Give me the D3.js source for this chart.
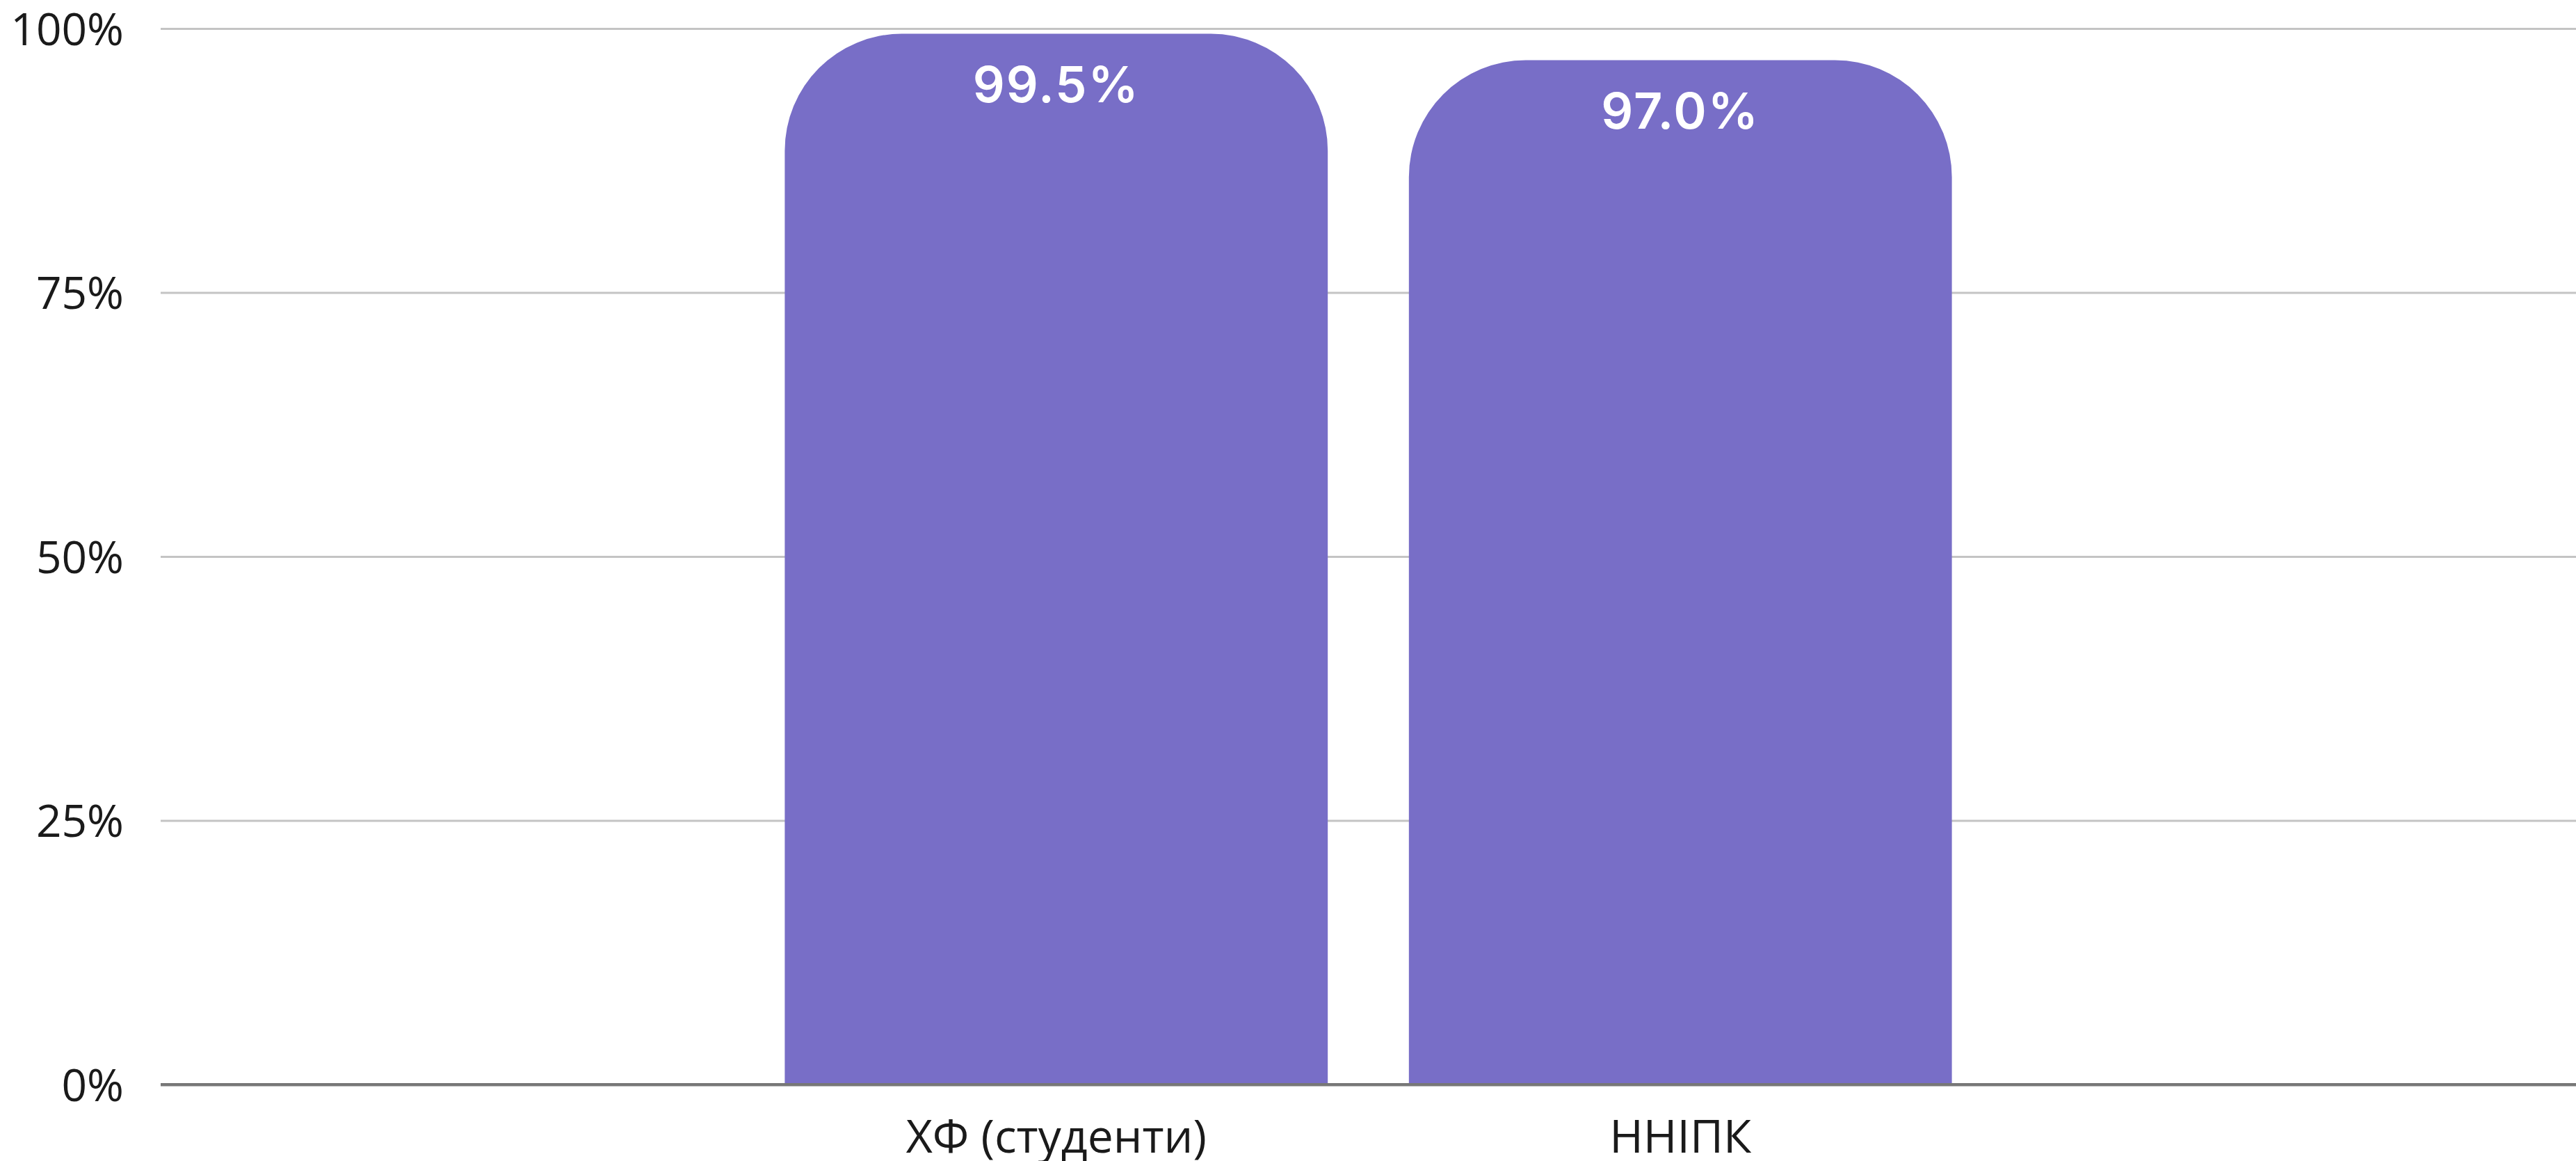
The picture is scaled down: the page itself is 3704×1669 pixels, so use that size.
<!DOCTYPE html>
<html>
<head>
<meta charset="utf-8">
<script src="https://cdn.jsdelivr.net/npm/d3@7"></script>
<style>
  html, body { margin: 0; padding: 0; background: #fff; }
  svg { display: block; }
</style>
</head>
<body>
<div id="chart"></div>
<script>
/*
  Rounded bar chart
*/

var categories = ["ХФ (студенти)", "ННІПК"];
var values = [0.995, 0.970];
var valueLabels = ["99.5%", "97.0%"];
var yTicks = [0, 0.25, 0.5, 0.75, 1];
var yTickLabels = ["0%", "25%", "50%", "75%", "100%"];

var width = 3704, height = 1669;
var margin = {top: 41, right: 0, bottom: 110, left: 231};
var accent = "#786ec7";
var radius = 168;

var svg = d3.select("#chart").append("svg")
  .attr("width", width)
  .attr("height", height);

var x = d3.scaleBand()
  .domain(categories)
  .range([margin.left, width - margin.right])
  .paddingInner(0.13)
  .paddingOuter(1);

var y = d3.scaleLinear()
  .domain([0, 1])
  .range([height - margin.bottom, margin.top]);

//Gridlines + tick labels
var grid = svg.append("g")
  .call(d3.axisLeft(y)
    .tickValues(yTicks)
    .tickSize(-(width - margin.left - margin.right))
    .tickFormat(function(d, i){ return yTickLabels[i]; }))
  .attr("transform", "translate(" + margin.left + ",0)");

grid.select(".domain").remove();
grid.selectAll(".tick line")
  .attr("stroke", function(d){ return d === 0 ? "#777777" : "#c4c4c4"; })
  .attr("stroke-width", function(d){ return d === 0 ? 4 : 3; });
grid.selectAll(".tick text")
  .attr("x", -53)
  .attr("dy", "0.36em")
  .style("font-family", "'Open Sans'")
  .style("font-size", "64px")
  .attr("fill", "#1a1a1a");

// bars with rounded tops
function barPath(d, i){
  var x0 = x(categories[i]), x1 = x0 + x.bandwidth(),
      y0 = y(0), y1 = y(d),
      r = Math.min(radius, (y0 - y1), x.bandwidth() / 2);
  return "M" + x0 + "," + y0 +
    "V" + (y1 + r) +
    "A" + r + "," + r + " 0 0 1 " + (x0 + r) + "," + y1 +
    "H" + (x1 - r) +
    "A" + r + "," + r + " 0 0 1 " + x1 + "," + (y1 + r) +
    "V" + y0 + "Z";
}

svg.append("g").selectAll("path")
  .data(values)
  .enter().append("path")
  .attr("d", barPath)
  .attr("fill", accent);

// redraw baseline above bars
svg.append("line")
  .attr("x1", margin.left)
  .attr("x2", width - margin.right)
  .attr("y1", y(0))
  .attr("y2", y(0))
  .attr("stroke", "#777777")
  .attr("stroke-width", 4);

//Value labels
svg.append("g").selectAll("text")
  .data(values)
  .enter().append("text")
  .attr("x", function(d, i){ return x(categories[i]) + x.bandwidth() / 2; })
  .attr("y", function(d){ return y(d) + 98; })
  .attr("text-anchor", "middle")
  .style("font-family", "Inter")
  .style("font-weight", "600")
  .style("font-size", "72px")
  .style("letter-spacing", "2px")
  .attr("fill", "#ffffff")
  .text(function(d, i){ return valueLabels[i]; });

//Category labels
svg.append("g").selectAll("text")
  .data(categories)
  .enter().append("text")
  .attr("x", function(d){ return x(d) + x.bandwidth() / 2; })
  .attr("y", y(0) + 98)
  .attr("text-anchor", "middle")
  .style("font-family", "'Open Sans'")
  .style("font-size", "66px")
  .attr("fill", "#1a1a1a")
  .text(function(d){ return d; });
</script>
</body>
</html>
